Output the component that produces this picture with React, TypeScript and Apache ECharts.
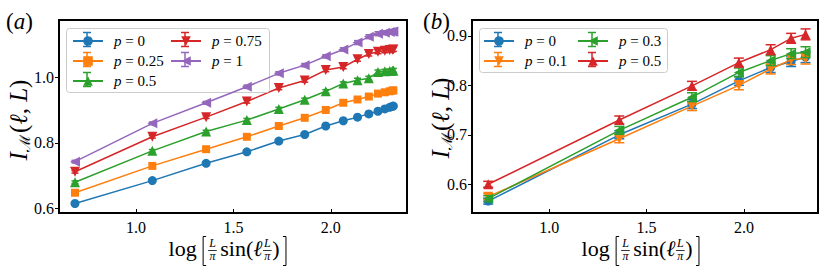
import React, { useEffect, useRef } from "react";
import * as echarts from "echarts";

// ---------- data ----------
// panel (a): x = log[(L/pi) sin(l pi/L)]
const xA = [0.687, 1.084, 1.36, 1.569, 1.733, 1.866, 1.974, 2.064, 2.137, 2.195, 2.242, 2.277, 2.302, 2.316, 2.321];
const aP0 = [0.615, 0.685, 0.738, 0.773, 0.806, 0.826, 0.852, 0.868, 0.879, 0.889, 0.897, 0.904, 0.909, 0.912, 0.913];
const aP025 = [0.648, 0.73, 0.781, 0.819, 0.852, 0.877, 0.901, 0.923, 0.933, 0.942, 0.951, 0.955, 0.958, 0.96, 0.961];
const aP05 = [0.68, 0.776, 0.835, 0.87, 0.904, 0.932, 0.958, 0.982, 0.992, 0.998, 1.017, 1.019, 1.02, 1.021, 1.022];
const aP075 = [0.712, 0.819, 0.879, 0.927, 0.968, 0.991, 1.023, 1.032, 1.056, 1.072, 1.079, 1.082, 1.084, 1.085, 1.086];
const aP1 = [0.743, 0.86, 0.923, 0.972, 1.013, 1.038, 1.065, 1.086, 1.107, 1.125, 1.134, 1.137, 1.139, 1.14, 1.141];
const errA = [0.004, 0.004, 0.004, 0.005, 0.005, 0.005, 0.005, 0.005, 0.006, 0.006, 0.006, 0.006, 0.006, 0.006, 0.006];

// panel (b)
const xB = [0.687, 1.36, 1.733, 1.974, 2.137, 2.242, 2.316];
const bP0 = [0.566, 0.7, 0.762, 0.809, 0.836, 0.848, 0.857];
const bP01 = [0.575, 0.692, 0.758, 0.8, 0.833, 0.852, 0.854];
const bP03 = [0.571, 0.709, 0.776, 0.826, 0.85, 0.864, 0.867];
const bP05 = [0.6, 0.73, 0.799, 0.846, 0.872, 0.895, 0.903];
const errB = [0.006, 0.008, 0.009, 0.009, 0.01, 0.01, 0.011];

const ticksXA = [1.0, 1.5, 2.0];
const ticksYA = [0.6, 0.8, 1.0];
const ticksXB = [1.0, 1.5, 2.0];
const ticksYB = [0.6, 0.7, 0.8, 0.9];

// ---------- styling ----------
const SERIF = "Liberation Serif, serif";
const COL = { blue: "#1f77b4", orange: "#ff7f0e", green: "#2ca02c", red: "#d62728", purple: "#9467bd" };

type Ser = {
  key: string; pv: string; color: string; symbol: string; rotate: number; size: number;
  ys: number[]; errs: number[]; lx: number; ly: number;
};

const seriesA: Ser[] = [
  { key: "a0", pv: "0", color: COL.blue, symbol: "circle", rotate: 0, size: 9, ys: aP0, errs: errA, lx: 72, ly: 39.5 },
  { key: "a025", pv: "0.25", color: COL.orange, symbol: "rect", rotate: 0, size: 8, ys: aP025, errs: errA, lx: 72, ly: 59.5 },
  { key: "a05", pv: "0.5", color: COL.green, symbol: "triangle", rotate: 0, size: 10, ys: aP05, errs: errA, lx: 72, ly: 79.5 },
  { key: "a075", pv: "0.75", color: COL.red, symbol: "triangle", rotate: 180, size: 10, ys: aP075, errs: errA, lx: 170, ly: 39.5 },
  { key: "a1", pv: "1", color: COL.purple, symbol: "triangle", rotate: 90, size: 10, ys: aP1, errs: errA, lx: 170, ly: 59.5 },
];
const seriesB: Ser[] = [
  { key: "b0", pv: "0", color: COL.blue, symbol: "circle", rotate: 0, size: 9, ys: bP0, errs: errB, lx: 483, ly: 39.5 },
  { key: "b01", pv: "0.1", color: COL.orange, symbol: "triangle", rotate: 180, size: 10, ys: bP01, errs: errB, lx: 483, ly: 59.5 },
  { key: "b03", pv: "0.3", color: COL.green, symbol: "triangle", rotate: 90, size: 10, ys: bP03, errs: errB, lx: 577, ly: 39.5 },
  { key: "b05", pv: "0.5", color: COL.red, symbol: "triangle", rotate: 0, size: 10, ys: bP05, errs: errB, lx: 577, ly: 59.5 },
];

function measure(text: string, font: string): number {
  const c = document.createElement("canvas").getContext("2d");
  if (!c) return text.length * 8;
  c.font = font;
  return c.measureText(text).width;
}

function makeErr(color: string, cap: number) {
  return (params: any, api: any) => {
    const x = api.value(0), y = api.value(1), e = api.value(2);
    const t = api.coord([x, y + e]);
    const b = api.coord([x, y - e]);
    const st = { stroke: color, lineWidth: 1.5 };
    return {
      type: "group",
      children: [
        { type: "line", shape: { x1: t[0], y1: t[1], x2: b[0], y2: b[1] }, style: st },
        { type: "line", shape: { x1: t[0] - cap, y1: t[1], x2: t[0] + cap, y2: t[1] }, style: st },
        { type: "line", shape: { x1: b[0] - cap, y1: b[1], x2: b[0] + cap, y2: b[1] }, style: st },
      ],
    };
  };
}

function buildSeries(list: Ser[], xs: number[], idx: number, cap: number) {
  const out: any[] = [];
  list.forEach((s, k) => {
    out.push({
      type: "custom", name: s.key + "_err", xAxisIndex: idx, yAxisIndex: idx,
      data: xs.map((x, i) => [x, s.ys[i], s.errs[i]]), renderItem: makeErr(s.color, cap),
      z: 2 + 2 * k, silent: true,
    });
    out.push({
      type: "line", name: s.key, xAxisIndex: idx, yAxisIndex: idx,
      data: xs.map((x, i) => [x, s.ys[i]]), symbol: s.symbol, symbolRotate: s.rotate, symbolSize: s.size,
      lineStyle: { color: s.color, width: 1.5 }, itemStyle: { color: s.color },
      z: 3 + 2 * k, showSymbol: true,
    });
  });
  return out;
}

function buildLegends(list: Ser[]) {
  return list.map((s) => ({
    data: [s.key], left: s.lx, top: s.ly - 6, itemWidth: 30, itemHeight: 12, padding: 0, z: 20,
    selectedMode: false, formatter: () => `{i|p} = ${s.pv}`,
    textStyle: {
      fontFamily: SERIF, fontSize: 15, color: "#000", padding: [0, 0, 0, 6],
      rich: { i: { fontFamily: SERIF, fontStyle: "italic", fontSize: 15, color: "#000" } },
    },
  }));
}

function legendErrBars(list: Ser[]) {
  const els: any[] = [];
  list.forEach((s) => {
    const cx = s.lx + 15, cy = s.ly;
    const st = { stroke: s.color, lineWidth: 1.5 };
    els.push({ type: "line", z: 21, shape: { x1: cx, y1: cy - 7, x2: cx, y2: cy + 7 }, style: st });
    els.push({ type: "line", z: 21, shape: { x1: cx - 4, y1: cy - 7, x2: cx + 4, y2: cy - 7 }, style: st });
    els.push({ type: "line", z: 21, shape: { x1: cx - 4, y1: cy + 7, x2: cx + 4, y2: cy + 7 }, style: st });
  });
  return els;
}

function txt(text: string, x: number, y: number, size: number, italic: boolean, align = "left") {
  return {
    type: "text", x, y, z: 30,
    style: {
      text, fill: "#000", fontSize: size, fontFamily: SERIF, fontStyle: italic ? "italic" : "normal",
      align, verticalAlign: "middle", textAlign: align, textVerticalAlign: "middle",
    },
  };
}

// x-axis title: log [ (L/pi) sin( l L/pi ) ]
function xTitle(cx: number, my: number) {
  const F = 22, FF = 12;
  const font = (f: number, it: boolean) => `${it ? "italic " : ""}${f}px ${SERIF}`;
  type P = { t?: string; f?: number; it?: boolean; frac?: boolean; gap?: number; br?: "l" | "r" };
  const parts: P[] = [
    { t: "log", f: F }, { gap: 5 }, { br: "l" }, { frac: true }, { gap: 3 },
    { t: "sin", f: F }, { t: "(", f: F }, { t: "\u2113", f: F, it: true }, { frac: true },
    { t: ")", f: F }, { gap: 2 }, { br: "r" },
  ];
  const fracW = Math.max(measure("L", font(FF, true)), measure("\u03c0", font(FF, true))) + 3;
  const widths = parts.map((p) => (p.gap ? p.gap : p.br ? 6 : p.frac ? fracW : measure(p.t!, font(p.f!, !!p.it))));
  const total = widths.reduce((a, b) => a + b, 0);
  let x = cx - total / 2;
  const els: any[] = [];
  parts.forEach((p, i) => {
    const w = widths[i];
    if (p.frac) {
      els.push(txt("L", x + w / 2, my - 5, FF, true, "center"));
      els.push(txt("\u03c0", x + w / 2, my + 7.5, FF, true, "center"));
      els.push({ type: "line", z: 30, shape: { x1: x + 0.5, y1: my + 2.5, x2: x + w - 0.5, y2: my + 2.5 }, style: { stroke: "#000", lineWidth: 0.8 } });
    } else if (p.br) {
      const top = my - 11.5, bot = my + 17.5;
      const pts = p.br === "l"
        ? [[x + 4.5, top], [x + 1.5, top], [x + 1.5, bot], [x + 4.5, bot]]
        : [[x + 1.5, top], [x + 4.5, top], [x + 4.5, bot], [x + 1.5, bot]];
      els.push({ type: "polyline", z: 30, shape: { points: pts }, style: { stroke: "#000", lineWidth: 1, fill: "none" } });
    } else if (p.t) {
      els.push(txt(p.t, x, my, p.f!, !!p.it));
    }
    x += w;
  });
  return els;
}

function yTitle(x: number, y: number) {
  return {
    type: "text", x, y, rotation: Math.PI / 2, z: 30,
    style: {
      text: "{i|I}{s|\u2133}{n|(}{i|\u2113}{n|, }{i|L}{n|)}",
      align: "center", verticalAlign: "middle", textAlign: "center", textVerticalAlign: "middle",
      fill: "#000",
      rich: {
        i: { fontFamily: SERIF, fontStyle: "italic", fontSize: 25, color: "#000", lineHeight: 28, verticalAlign: "middle" },
        n: { fontFamily: SERIF, fontSize: 25, color: "#000", lineHeight: 28, verticalAlign: "middle" },
        s: { fontFamily: SERIF, fontSize: 15, color: "#000", lineHeight: 13, verticalAlign: "bottom", padding: [0, 2, 0, 0] },
      },
    },
  };
}

function panelLabel(ch: string, x: number, y: number) {
  return {
    type: "text", x, y, z: 30,
    style: {
      text: `{n|(}{i|${ch}}{n|)}`, align: "left", verticalAlign: "middle", textAlign: "left", textVerticalAlign: "middle",
      rich: {
        n: { fontFamily: SERIF, fontSize: 23, color: "#000" },
        i: { fontFamily: SERIF, fontStyle: "italic", fontSize: 23, color: "#000" },
      },
    },
  };
}

function axisX(idx: number, min: number, max: number, ticks: number[]) {
  return {
    type: "value", gridIndex: idx, min, max,
    axisLine: { show: true, onZero: false, lineStyle: { color: "#000", width: 2 } },
    axisTick: { show: true, inside: true, length: 4, lineStyle: { color: "#000", width: 1 }, customValues: ticks },
    axisLabel: {
      show: true, customValues: ticks, formatter: (v: number) => v.toFixed(1), margin: 6,
      fontFamily: SERIF, fontSize: 16, color: "#000",
    },
    splitLine: { show: false },
  };
}
function axisY(idx: number, min: number, max: number, ticks: number[]) {
  return {
    type: "value", gridIndex: idx, min, max,
    axisLine: { show: true, onZero: false, lineStyle: { color: "#000", width: 2 } },
    axisTick: { show: true, inside: false, length: 4, lineStyle: { color: "#000", width: 1 }, customValues: ticks },
    axisLabel: {
      show: true, customValues: ticks, formatter: (v: number) => v.toFixed(1), margin: 5,
      fontFamily: SERIF, fontSize: 16, color: "#000",
    },
    splitLine: { show: false },
  };
}

export default function App() {
  const ref = useRef<HTMLDivElement>(null);
  useEffect(() => {
    document.body.style.margin = "0";
    if (!ref.current) return;
    const chart = echarts.init(ref.current, undefined, { renderer: "svg" });
    const graphics: any[] = [
      {
        type: "rect", z: 10, shape: { x: 66.5, y: 28.5, width: 203, height: 64, r: 3 },
        style: { fill: "rgba(255,255,255,0.8)", stroke: "#cccccc", lineWidth: 1 },
      },
      {
        type: "rect", z: 10, shape: { x: 479.5, y: 28.5, width: 188, height: 44, r: 3 },
        style: { fill: "rgba(255,255,255,0.8)", stroke: "#cccccc", lineWidth: 1 },
      },
      ...legendErrBars(seriesA),
      ...legendErrBars(seriesB),
      ...xTitle(228, 248),
      ...xTitle(641, 248),
      yTitle(18, 120),
      yTitle(440, 118),
      panelLabel("a", 6, 21),
      panelLabel("b", 423, 21),
    ];
    const option: any = {
      animation: false,
      backgroundColor: "#fff",
      textStyle: { fontFamily: SERIF },
      grid: [
        { left: 59, top: 20, width: 348, height: 193, show: true, borderColor: "#000", borderWidth: 2, backgroundColor: "transparent" },
        { left: 472, top: 20, width: 346, height: 193, show: true, borderColor: "#000", borderWidth: 2, backgroundColor: "transparent" },
      ],
      xAxis: [axisX(0, 0.605, 2.391, ticksXA), axisX(1, 0.604, 2.38, ticksXB)],
      yAxis: [axisY(0, 0.586, 1.176, ticksYA), axisY(1, 0.542, 0.932, ticksYB)],
      legend: [...buildLegends(seriesA), ...buildLegends(seriesB)],
      series: [...buildSeries(seriesA, xA, 0, 3.5), ...buildSeries(seriesB, xB, 1, 5)],
      graphic: { elements: graphics },
    };
    chart.setOption(option);
    return () => chart.dispose();
  }, []);
  return <div ref={ref} style={{ width: 830, height: 273 }} />;
}
